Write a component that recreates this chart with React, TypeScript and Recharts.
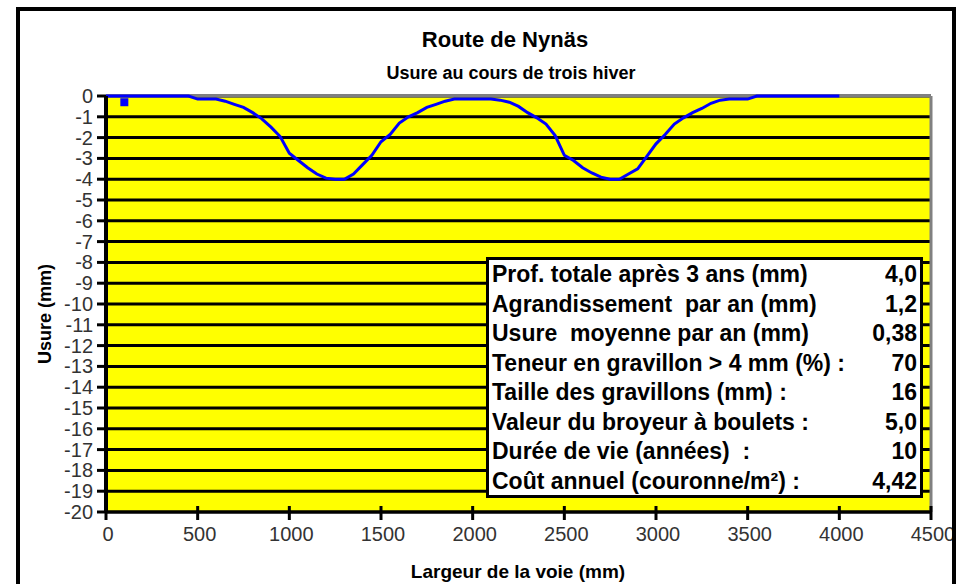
import React from 'react';
import {
  ComposedChart,
  Line,
  Scatter,
  XAxis,
  YAxis,
  CartesianGrid,
  ReferenceLine,
} from 'recharts';

// Transverse position across the lane (mm)
const lanePositionMm = [
  0, 50, 100, 150, 200, 250, 300, 350, 400, 450,
  500, 550, 600, 650, 700, 750, 800, 850, 900, 950,
  1000, 1050, 1100, 1150, 1200, 1250, 1300, 1350, 1400, 1450,
  1500, 1550, 1600, 1650, 1700, 1750, 1800, 1850, 1900, 1950,
  2000, 2050, 2100, 2150, 2200, 2250, 2300, 2350, 2400, 2450,
  2500, 2550, 2600, 2650, 2700, 2750, 2800, 2850, 2900, 2950,
  3000, 3050, 3100, 3150, 3200, 3250, 3300, 3350, 3400, 3450,
  3500, 3550, 3600, 3650, 3700, 3750, 3800, 3850, 3900, 3950,
  4000,
];

// Measured rut depth after three winters (mm)
const wearDepthMm = [
  0, 0, 0, 0, 0, 0, 0, 0, 0, 0,
  -0.15, -0.15, -0.15, -0.25, -0.4, -0.55, -0.8, -1.1, -1.5, -1.95,
  -2.75, -3.1, -3.45, -3.75, -3.95, -4.0, -4.0, -3.75, -3.3, -2.85,
  -2.2, -1.85, -1.3, -1.0, -0.8, -0.55, -0.4, -0.25, -0.15, -0.15,
  -0.15, -0.15, -0.15, -0.2, -0.3, -0.5, -0.8, -1.05, -1.35, -1.9,
  -2.85, -3.1, -3.45, -3.7, -3.9, -4.0, -4.0, -3.75, -3.5, -2.9,
  -2.3, -1.85, -1.35, -1.05, -0.8, -0.6, -0.35, -0.2, -0.15, -0.15,
  -0.15, 0, 0, 0, 0, 0, 0, 0, 0, 0,
  0,
];

// Single reference reading near the lane edge
const edgeReadingX = [100];
const edgeReadingY = [-0.3];

const xTicks = [0, 500, 1000, 1500, 2000, 2500, 3000, 3500, 4000, 4500];
const yTicks = [
  0, -1, -2, -3, -4, -5, -6, -7, -8, -9, -10,
  -11, -12, -13, -14, -15, -16, -17, -18, -19, -20,
];

const statLabels = [
  'Prof. totale après 3 ans (mm)',
  'Agrandissement  par an (mm)',
  'Usure  moyenne par an (mm)',
  'Teneur en gravillon > 4 mm (%) :',
  'Taille des gravillons (mm) :',
  'Valeur du broyeur à boulets :',
  'Durée de vie (années)  :',
  'Coût annuel (couronne/m²) :',
];
const statValues = ['4,0', '1,2', '0,38', '70', '16', '5,0', '10', '4,42'];

const profile = lanePositionMm.map((x, i) => ({ x, y: wearDepthMm[i] }));
const edgeReading = edgeReadingX.map((x, i) => ({ x, y: edgeReadingY[i] }));

const FONT = '"Liberation Sans", Arial, sans-serif';

const renderXTick = ({ x, y, payload }: any) => (
  <g key={`xt-${payload.value}`}>
    <line x1={x} x2={x} y1={y - 6} y2={y + 8} stroke="#000" strokeWidth={3} />
    <text
      x={x + 2}
      y={y + 29}
      textAnchor="middle"
      fontSize={20}
      fontFamily={FONT}
      fill="#333"
    >
      {payload.value}
    </text>
  </g>
);

const renderYTick = ({ x, y, payload }: any) => (
  <g key={`yt-${payload.value}`}>
    <line x1={x - 9} x2={x} y1={y} y2={y} stroke="#000" strokeWidth={3} />
    <text
      x={x - 13}
      y={y + 7}
      textAnchor="end"
      fontSize={20}
      fontFamily={FONT}
      fill="#333"
    >
      {payload.value}
    </text>
  </g>
);

export default function App() {
  return (
    <div
      style={{
        position: 'absolute',
        left: 0,
        top: 0,
        width: 959,
        height: 584,
        overflow: 'hidden',
        background: '#fff',
        fontFamily: FONT,
      }}
    >
      <ComposedChart
        width={959}
        height={584}
        margin={{ top: 96, right: 28, bottom: 71, left: 105 }}
        style={{ position: 'absolute', left: 0, top: 0 }}
      >
        <CartesianGrid
          vertical={false}
          stroke="#000"
          strokeWidth={3}
          fill="#ffff00"
          fillOpacity={1}
        />
        <XAxis
          type="number"
          dataKey="x"
          domain={[0, 4500]}
          ticks={xTicks}
          interval={0}
          height={1}
          tickSize={0}
          tickMargin={0}
          tick={renderXTick}
          axisLine={{ stroke: '#000', strokeWidth: 3 }}
        />
        <YAxis
          type="number"
          domain={[-20, 0]}
          ticks={yTicks}
          interval={0}
          width={1}
          tickSize={0}
          tickMargin={0}
          tick={renderYTick}
          axisLine={{ stroke: '#000', strokeWidth: 4 }}
        />
        <ReferenceLine y={0} stroke="#808080" strokeWidth={3} />
        <ReferenceLine x={4500} stroke="#808080" strokeWidth={3} />
        <Line
          data={profile}
          dataKey="y"
          type="linear"
          stroke="#0000ff"
          strokeWidth={3}
          dot={false}
          isAnimationActive={false}
        />
        <Scatter
          data={edgeReading}
          dataKey="y"
          fill="#0000ff"
          shape="square"
          isAnimationActive={false}
        />
      </ComposedChart>

      <svg
        width={959}
        height={584}
        style={{ position: 'absolute', left: 0, top: 0, pointerEvents: 'none' }}
      >
        <text x={505} y={47} textAnchor="middle" fontSize={22} fontWeight="bold" fontFamily={FONT} fill="#000">
          Route de Nynäs
        </text>
        <text x={511} y={79} textAnchor="middle" fontSize={18} fontWeight="bold" fontFamily={FONT} fill="#000">
          Usure au cours de trois hiver
        </text>
        <text x={518} y={578} textAnchor="middle" fontSize={19} fontWeight="bold" fontFamily={FONT} fill="#000">
          Largeur de la voie (mm)
        </text>
        <text
          x={0}
          y={0}
          transform="translate(51 314) rotate(-90)"
          textAnchor="middle"
          fontSize={18}
          fontWeight="bold"
          fontFamily={FONT}
          fill="#000"
        >
          Usure (mm)
        </text>
      </svg>

      <div
        style={{
          position: 'absolute',
          left: 486,
          top: 257,
          width: 437,
          height: 241,
          boxSizing: 'border-box',
          border: '3px solid #000',
          background: '#fff',
          padding: '0 3px',
        }}
      >
        {statLabels.map((label, i) => (
          <div
            key={label}
            style={{
              display: 'flex',
              justifyContent: 'space-between',
              height: 29.5,
              lineHeight: '29.5px',
              fontSize: 23,
              fontWeight: 'bold',
              whiteSpace: 'pre',
              color: '#000',
            }}
          >
            <span>{label}</span>
            <span>{statValues[i]}</span>
          </div>
        ))}
      </div>

      <div
        style={{
          position: 'absolute',
          left: 16,
          top: 7,
          width: 940,
          height: 640,
          boxSizing: 'border-box',
          border: '4px solid #000',
          pointerEvents: 'none',
        }}
      />
    </div>
  );
}
